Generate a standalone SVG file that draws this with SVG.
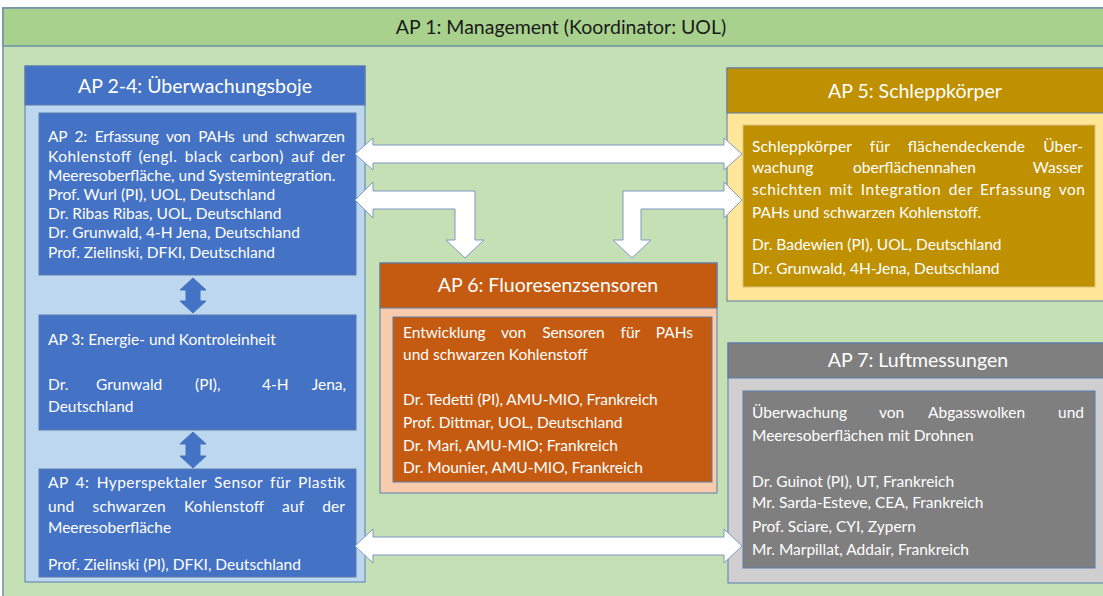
<svg xmlns="http://www.w3.org/2000/svg" width="1103" height="596" viewBox="0 0 1103 596">
<defs>
<style>
.bd{stroke:#5a7db0;stroke-width:1}
.t{font-family:Lato,"Liberation Sans",sans-serif;fill:#ffffff;font-size:15.5px}
.h{font-family:Lato,"Liberation Sans",sans-serif;fill:#ffffff;font-size:19.5px;text-anchor:middle}
.arr{fill:#ffffff;stroke:#7d99c4;stroke-width:1}
.barr{fill:#4472c4;stroke:#4472c4;stroke-width:1}
</style>
</defs>
<rect width="1103" height="596" fill="#ffffff"/>
<g id="ap1">
<rect x="3" y="8" width="1120" height="600" fill="#c5e0b4" stroke="#6f8fa8" stroke-width="1.5"/>
<rect x="3" y="8" width="1120" height="38" fill="#a9d18e" stroke="#6f8fa8" stroke-width="1.5"/>
<text x="561" y="34" text-anchor="middle" font-family="Lato,'Liberation Sans',sans-serif" font-size="19.5" fill="#1a1a1a">AP 1: Management (Koordinator: UOL)</text>
</g>
<g id="ap2-4">
<rect x="25" y="66" width="340" height="516" fill="#bdd7ee" class="bd"/>
<rect x="25" y="66" width="340" height="39" fill="#4472c4" class="bd"/>
<text class="h" x="195" y="93">AP 2-4: Überwachungsboje</text>
</g>
<g id="ap2">
<rect x="39" y="113" width="317" height="162" fill="#4472c4" class="bd"/>
<text class="t" x="48" y="142" textLength="297" lengthAdjust="spacing" word-spacing="4">AP 2: Erfassung von PAHs und schwarzen</text>
<text class="t" x="48" y="162" textLength="297" lengthAdjust="spacing" word-spacing="3">Kohlenstoff (engl. black carbon) auf der</text>
<text class="t" x="48" y="181">Meeresoberfläche, und Systemintegration.</text>
<text class="t" x="48" y="200">Prof. Wurl (PI), UOL, Deutschland</text>
<text class="t" x="48" y="219">Dr. Ribas Ribas, UOL, Deutschland</text>
<text class="t" x="48" y="238">Dr. Grunwald, 4-H Jena, Deutschland</text>
<text class="t" x="48" y="258">Prof. Zielinski, DFKI, Deutschland</text>
</g>
<g id="ap3">
<rect x="39" y="315" width="317" height="115" fill="#4472c4" class="bd"/>
<text class="t" x="48" y="345">AP 3: Energie- und Kontroleinheit</text>
<text class="t" y="390"><tspan x="48">Dr.</tspan><tspan x="96">Grunwald</tspan><tspan x="195">(PI),</tspan><tspan x="262">4-H</tspan><tspan x="346" text-anchor="end">Jena,</tspan></text>
<text class="t" x="48" y="412">Deutschland</text>
</g>
<g id="ap4">
<rect x="39" y="469" width="317" height="108" fill="#4472c4" class="bd"/>
<text class="t" x="48" y="488" textLength="297" lengthAdjust="spacing" word-spacing="3">AP 4: Hyperspektaler Sensor für Plastik</text>
<text class="t" x="48" y="512" textLength="297" lengthAdjust="spacing" word-spacing="14">und schwarzen Kohlenstoff auf der</text>
<text class="t" x="48" y="533">Meeresoberfläche</text>
<text class="t" x="48" y="570">Prof. Zielinski (PI), DFKI, Deutschland</text>
</g>
<g id="ap5">
<rect x="727" y="68" width="400" height="233" fill="#ffe699" class="bd"/>
<rect x="727" y="68" width="400" height="45" fill="#bf9000" class="bd"/>
<text class="h" x="915" y="98">AP 5: Schleppkörper</text>
<rect x="743" y="125" width="352" height="162" fill="#bf9000" stroke="#d9c27a" stroke-width="1"/>
<text class="t" x="752" y="152" textLength="331" lengthAdjust="spacing" word-spacing="14">Schleppkörper für flächendeckende Über-</text>
<text class="t" y="173"><tspan x="752">wachung</tspan><tspan x="853">oberflächennahen</tspan><tspan x="1083" text-anchor="end">Wasser</tspan></text>
<text class="t" x="752" y="195" textLength="333" lengthAdjust="spacing" word-spacing="3">schichten mit Integration der Erfassung von</text>
<text class="t" x="752" y="218">PAHs und schwarzen Kohlenstoff.</text>
<text class="t" x="752" y="250">Dr. Badewien (PI), UOL, Deutschland</text>
<text class="t" x="752" y="274">Dr. Grunwald, 4H-Jena, Deutschland</text>
</g>
<g id="ap6">
<rect x="380" y="263" width="337" height="230" fill="#f8cbad" class="bd"/>
<rect x="380" y="263" width="337" height="45" fill="#c55a11" class="bd"/>
<text class="h" x="548" y="292">AP 6: Fluoresenzsensoren</text>
<rect x="393" y="317" width="319" height="165" fill="#c55a11" class="bd"/>
<text class="t" x="403" y="338" textLength="290" lengthAdjust="spacing" word-spacing="12">Entwicklung von Sensoren für PAHs</text>
<text class="t" x="403" y="360">und schwarzen Kohlenstoff</text>
<text class="t" x="403" y="405">Dr. Tedetti (PI), AMU-MIO, Frankreich</text>
<text class="t" x="403" y="428">Prof. Dittmar, UOL, Deutschland</text>
<text class="t" x="403" y="451">Dr. Mari, AMU-MIO; Frankreich</text>
<text class="t" x="403" y="473">Dr. Mounier, AMU-MIO, Frankreich</text>
</g>
<g id="ap7">
<rect x="728" y="343" width="400" height="240" fill="#d0cece" class="bd"/>
<rect x="728" y="343" width="400" height="35" fill="#7f7f7f" class="bd"/>
<text class="h" x="918" y="367">AP 7: Luftmessungen</text>
<rect x="743" y="391" width="352" height="177" fill="#7f7f7f" class="bd"/>
<text class="t" y="418"><tspan x="752">Überwachung</tspan><tspan x="879">von</tspan><tspan x="928">Abgasswolken</tspan><tspan x="1084" text-anchor="end">und</tspan></text>
<text class="t" x="752" y="441">Meeresoberflächen  mit Drohnen</text>
<text class="t" x="752" y="487">Dr. Guinot (PI), UT, Frankreich</text>
<text class="t" x="752" y="508">Mr. Sarda-Esteve, CEA, Frankreich</text>
<text class="t" x="752" y="532">Prof. Sciare, CYI, Zypern</text>
<text class="t" x="752" y="555">Mr. Marpillat, Addair, Frankreich</text>
</g>
<g id="connectors">
<path class="barr" d="M193,278 L206,290 L200,290 L200,301 L206,301 L193,313 L180,301 L186,301 L186,290 L180,290 Z"/>
<path class="barr" d="M193,432 L206,444 L200,444 L200,456 L206,456 L193,468 L180,456 L186,456 L186,444 L180,444 Z"/>
<path class="arr" d="M355,154 L373,138 L373,145 L724,145 L724,138 L742,154 L724,170 L724,163 L373,163 L373,170 Z"/>
<path class="arr" d="M355,200 L373,182 L373,191 L475,191 L475,240 L484,240 L465,258 L446,240 L455,240 L455,209 L373,209 L373,218 Z"/>
<path class="arr" d="M742,200 L724,182 L724,191 L623,191 L623,240 L613,240 L632,258 L651,240 L641,240 L641,209 L724,209 L724,218 Z"/>
<path class="arr" d="M355,546 L373,529 L373,537 L724,537 L724,529 L742,546 L724,563 L724,555 L373,555 L373,563 Z"/>
</g>
</svg>
